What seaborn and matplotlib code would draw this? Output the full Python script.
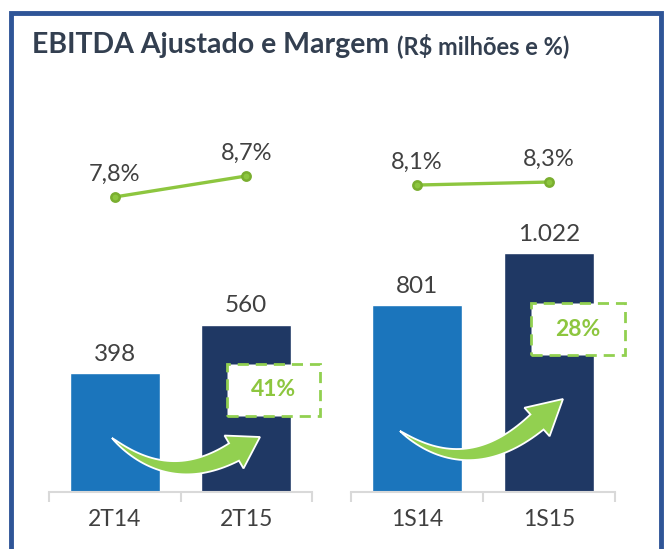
import matplotlib
matplotlib.use("Agg")
import matplotlib.pyplot as plt
import seaborn as sns
import numpy as np
import pandas as pd
from matplotlib.patches import Rectangle, Polygon

# data
periods_q = ["2T14", "2T15"]
ebitda_q = [398, 560]
margin_q = [7.8, 8.7]
growth_q = "41%"

periods_s = ["1S14", "1S15"]
ebitda_s = [801, 1022]
margin_s = [8.1, 8.3]
growth_s = "28%"

light_blue = "#1b75bc"
navy = "#1f3864"
green = "#8dc63f"
txt = "#404040"

sns.set_theme(style="white")
plt.rcParams["font.family"] = ["Lato", "DejaVu Sans"]

W, H = 667, 549
fig = plt.figure(figsize=(W / 100, H / 100), dpi=100)


def fx(x):
    return x / W


def fy(y):
    return 1 - y / H


def fmt_int(v):
    return f"{int(round(v)):,}".replace(",", ".")


def fmt_pct(v):
    return f"{v:.1f}%".replace(".", ",")


def panel(x0, x1, cats, vals, margins, ymax, mlim):
    ax = fig.add_axes([fx(x0), fy(492), fx(x1) - fx(x0), (492 - 130) / H])
    df = pd.DataFrame({"cat": cats, "val": vals})
    sns.barplot(data=df, x="cat", y="val", hue="cat", palette=[light_blue, navy],
                width=0.685, legend=False, ax=ax, saturation=1)
    for c in ax.containers:
        ax.bar_label(c, labels=[fmt_int(v) for v in c.datavalues], padding=6,
                     fontsize=17.5, color=txt)
    ax.set_ylim(0, ymax)
    ax.set_xlim(-0.5, 1.5)
    ax.set_xlabel("")
    ax.set_ylabel("")
    ax.set_yticks([])
    for s in ["top", "left", "right"]:
        ax.spines[s].set_visible(False)
    ax.spines["bottom"].set_color("#d9d9d9")
    ax.spines["bottom"].set_linewidth(1.5)
    ax.set_xticks([-0.5, 0.5, 1.5], minor=True)
    ax.tick_params(axis="x", which="minor", length=7, width=1.5, color="#d9d9d9",
                   direction="out", bottom=True)
    ax.tick_params(axis="x", which="major", length=0, labelsize=16.5, labelcolor=txt, pad=12)
    ax.patch.set_alpha(0)

    ax2 = ax.twinx()
    dm = pd.DataFrame({"cat": cats, "m": margins})
    sns.pointplot(data=dm, x="cat", y="m", color=green, markers="o", markersize=6,
                  linewidth=2.4, ax=ax2)
    for line in ax2.lines:
        line.set_markeredgecolor("#7aae2f")
    for i, m in enumerate(margins):
        ax2.annotate(fmt_pct(m), (i, m), xytext=(0, 9), textcoords="offset points",
                     ha="center", va="bottom", fontsize=17, color=txt)
    ax2.set_ylim(*mlim)
    ax2.set_xlim(-0.5, 1.5)
    ax2.set_yticks([])
    ax2.set_ylabel("")
    ax2.set_xlabel("")
    for s in ax2.spines.values():
        s.set_visible(False)
    return ax


panel(49, 312, periods_q, ebitda_q, margin_q, 1211, (-4.84, 10.67))
panel(351, 615, periods_s, ebitda_s, margin_s, 1550, (-12.37, 11.77))

# frame
fig.add_artist(Rectangle((fx(11), fy(560)), fx(661) - fx(11), fy(13) - fy(560),
                         transform=fig.transFigure, fill=False, ec="#2f5597",
                         lw=3.5, clip_on=False, zorder=0))

# title
t = fig.text(fx(32), fy(45), "EBITDA Ajustado e Margem", fontsize=20.5,
             fontweight="bold", color="#333f50", va="center", ha="left")
fig.canvas.draw()
bb = t.get_window_extent()
fig.text((bb.x1 + 8) / W, fy(46), "(R$ milhões e %)", fontsize=17,
         fontweight="bold", color="#333f50", va="center", ha="left")


# growth arrows: tapered curved body with a triangular head (pixel coords, y down)
def curved_arrow(p0, p1, pb, tip, wmax=20, head_w=38):
    p0, p1, pb, tip = map(np.asarray, (p0, p1, pb, tip))
    tt = np.linspace(0, 1, 40)[:, None]
    pts = (1 - tt) ** 2 * p0 + 2 * (1 - tt) * tt * p1 + tt ** 2 * pb
    der = 2 * (1 - tt) * (p1 - p0) + 2 * tt * (pb - p1)
    nrm = np.column_stack([-der[:, 1], der[:, 0]])
    nrm /= np.linalg.norm(nrm, axis=1)[:, None]
    w = wmax * tt ** 0.75 / 2
    left = pts + nrm * w
    right = pts - nrm * w
    d = tip - pb
    n = np.array([-d[1], d[0]]) / np.linalg.norm(d)
    outline = np.vstack([left, [pb + n * head_w / 2, tip, pb - n * head_w / 2],
                         right[::-1]])
    xy = np.column_stack([outline[:, 0] / W, 1 - outline[:, 1] / H])
    fig.add_artist(Polygon(xy, closed=True, transform=fig.transFigure,
                           fc="#92d050", ec="white", lw=1.3, zorder=2))


curved_arrow((112, 438), (169, 489), (234, 452), (260, 437))
curved_arrow((400, 431), (468, 482), (537, 422), (563, 399))

# growth boxes
for (x0, y0, x1, y1), lab in [((227, 364, 320, 416), growth_q),
                              ((531, 303, 625, 355), growth_s)]:
    fig.add_artist(Rectangle((fx(x0), fy(y1)), fx(x1) - fx(x0), fy(y0) - fy(y1),
                             transform=fig.transFigure, fc="white", ec="#92d050",
                             lw=2, ls=(0, (4, 2.5)), zorder=3))
    fig.text(fx((x0 + x1) / 2), fy((y0 + y1) / 2), lab, fontsize=16.5,
             fontweight="bold", color="#8dc63f", ha="center", va="center", zorder=4)

fig.savefig("out.png", dpi=100)
